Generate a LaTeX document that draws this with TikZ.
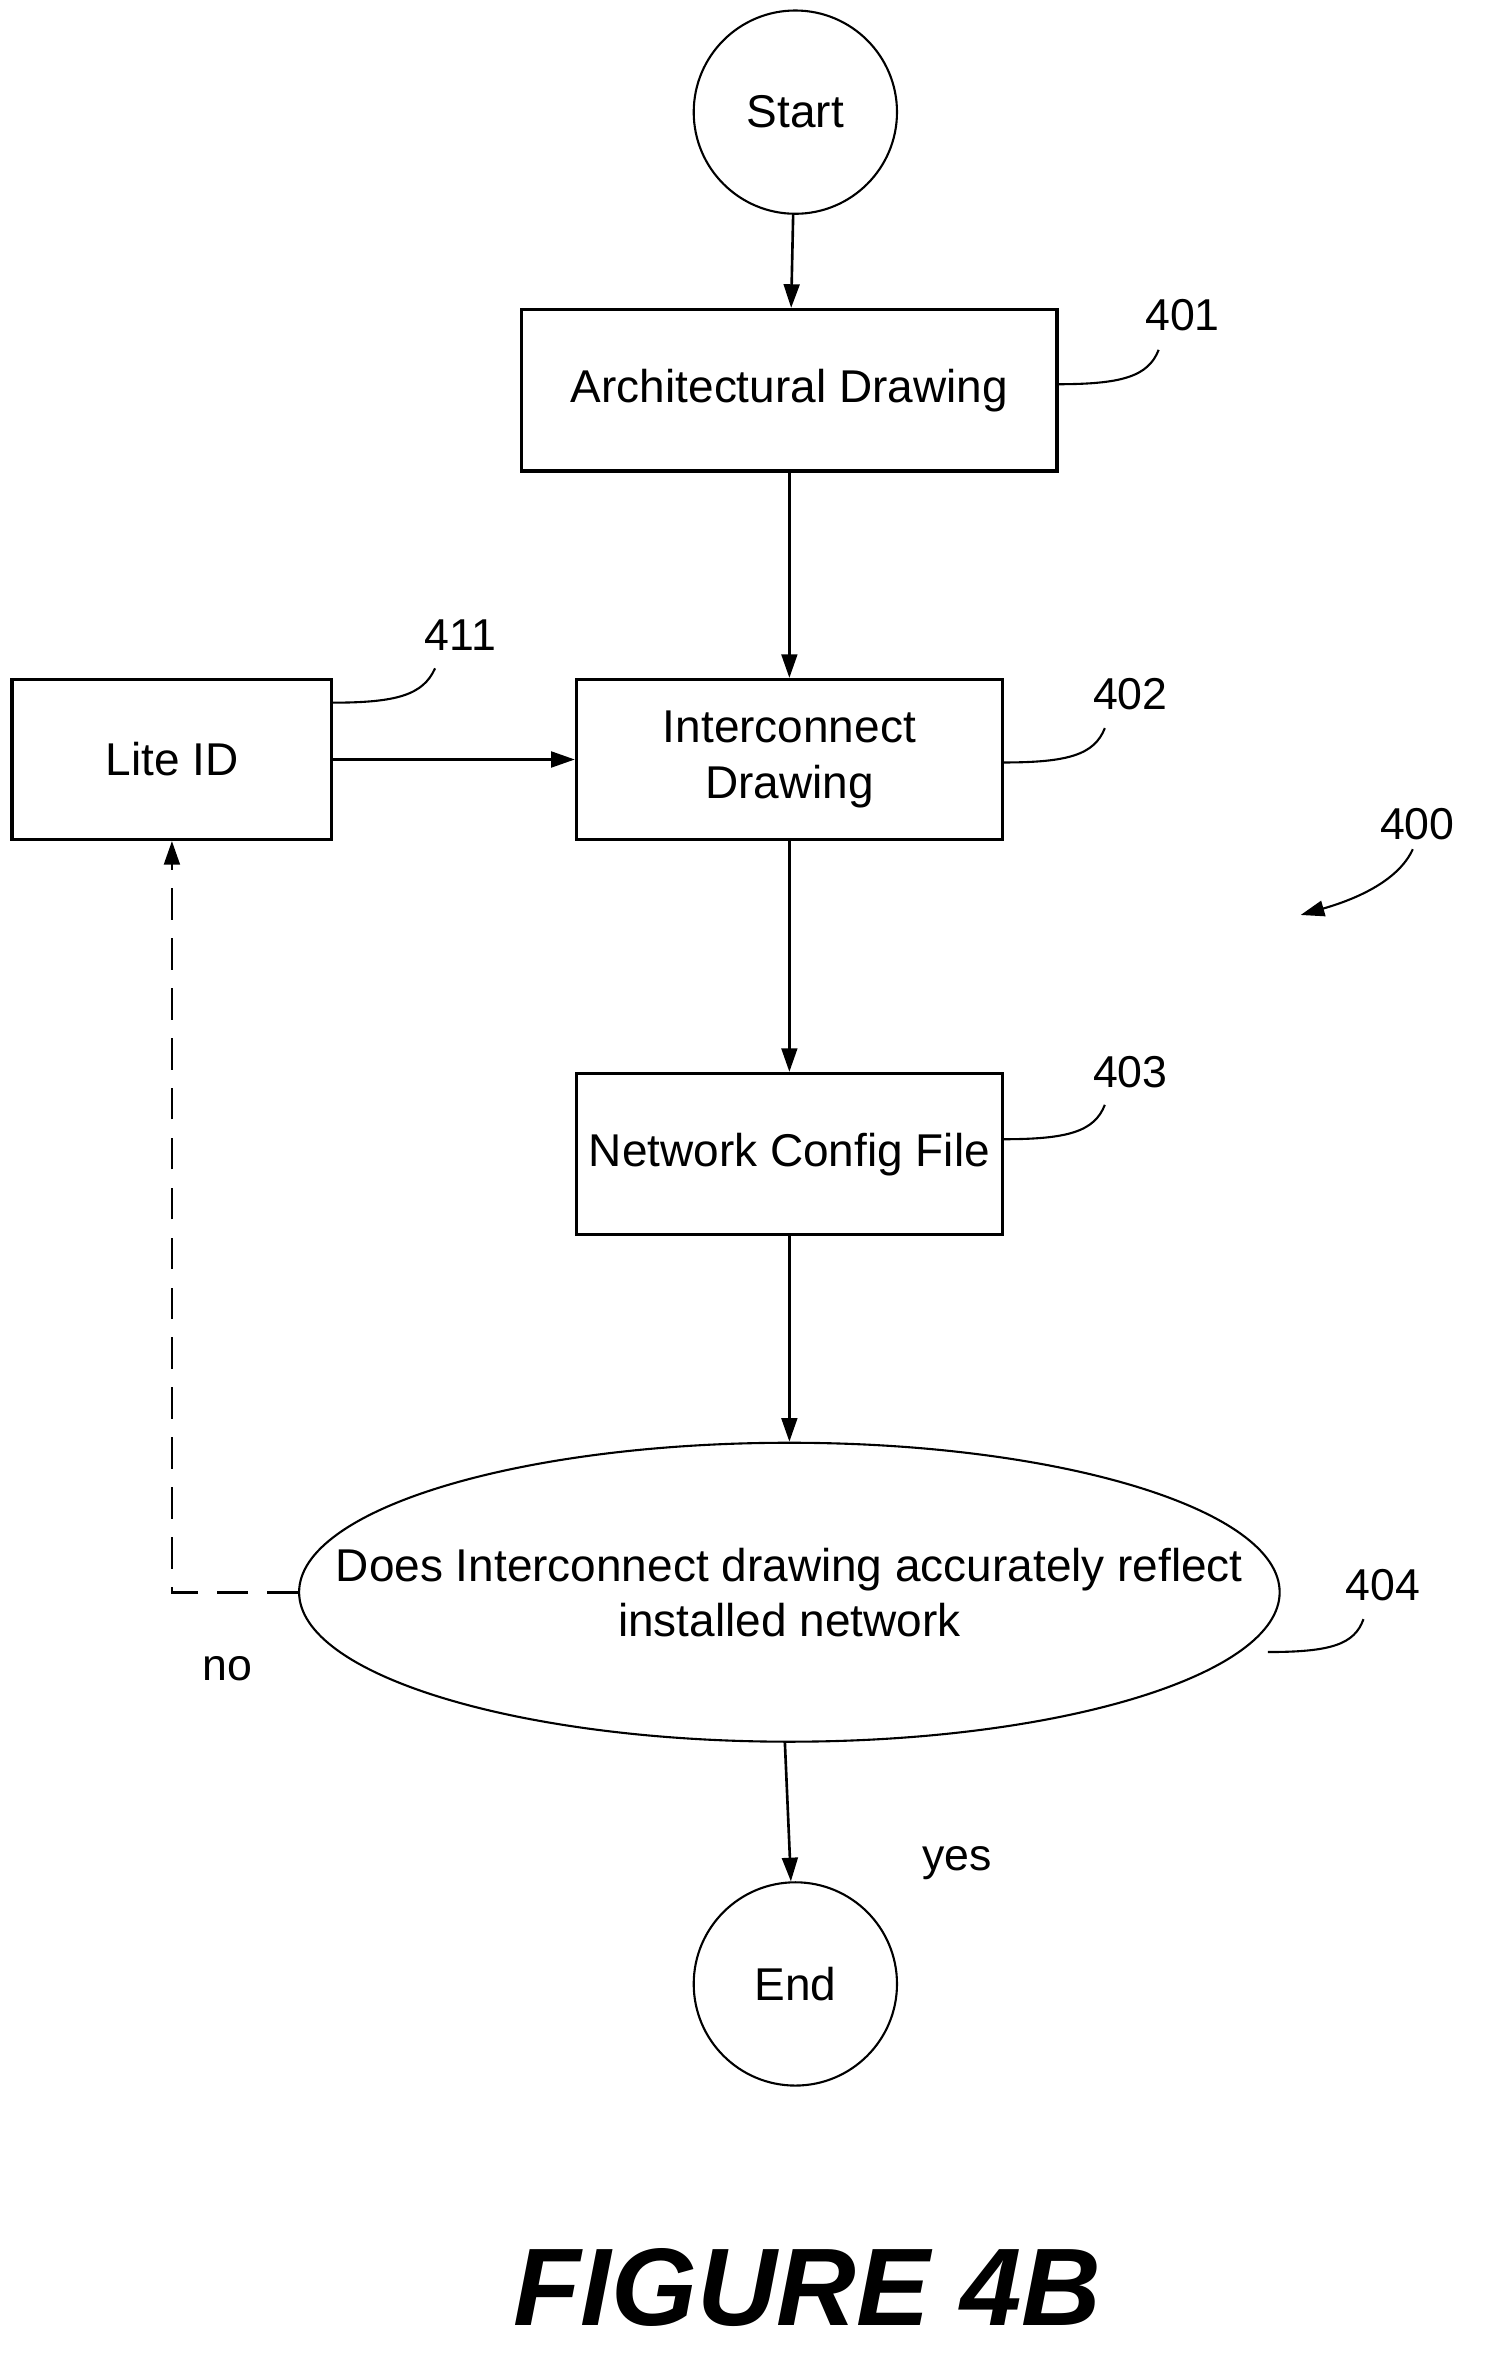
\documentclass[tikz,border=0pt]{standalone}
\usepackage{fontspec}
\setmainfont{Liberation Sans}
\usetikzlibrary{arrows.meta}
\usetikzlibrary{positioning}
\usetikzlibrary{shapes.geometric}

\begin{document}
\begin{tikzpicture}[x=0.02cm,y=-0.02cm,
                    ->,
                    >={Triangle[length=9pt,width=6pt]},
                    line width=1pt,
                    font=\fontsize{17.5}{21}\selectfont,
                    blk/.style={rectangle,draw,line width=1.2pt,align=center,inner sep=0pt},
                    term/.style={circle,draw,line width=0.8pt,minimum size=2.72cm},
                    lead/.style={-,line width=0.8pt},
                    num/.style={font=\fontsize{17}{20}\selectfont}
                    ]
  \useasboundingbox (0,0) rectangle (1000,1590.6);
  \node[term] (start) at (532,75) {Start};
  \node[blk, minimum width=7.16cm, minimum height=2.16cm] (401) at (528,261) {Architectural Drawing};
  \node[blk, minimum width=5.7cm, minimum height=2.14cm] (402) at (528,508) {Interconnect\\Drawing};
  \node[blk, minimum width=4.28cm, minimum height=2.14cm] (411) at (115,508) {Lite ID};
  \node[blk, minimum width=5.7cm, minimum height=2.16cm] (403) at (528,772) {Network Config File};
  \node[ellipse, draw, line width=0.8pt, minimum width=13.12cm, minimum height=4cm, align=center, inner sep=-2cm] (404) at (528,1065)
       {Does Interconnect drawing accurately reflect\\installed network};
  \node[term] (end) at (532,1327) {End};
  % flow
  \draw (start) -- (401);
  \draw (401) -- (402);
  \draw (411) -- (402);
  \draw (402) -- (403);
  \draw (403) -- (404);
  \draw (404.south) ++(-3,0) coordinate (ys) (ys) -- (end);
  \coordinate (nk) at (115,1065);
  \draw[dashed, dash pattern=on 12pt off 7pt] (404.west) -- (nk) -- (411.south);
  \node[num] (no) at (152,1116) {no};
  \node[num] (yes) at (640,1246) {yes};
  % reference numerals
  \node[num] (n401) at (791,211) {401};
  \node[num] (n402) at (756,464) {402};
  \node[num] (n411) at (308,425) {411};
  \node[num] (n403) at (756,717) {403};
  \node[num] (n404) at (925,1060) {404};
  \node[num] (n400) at (948,551) {400};
  \draw[lead] (707,257) .. controls (750,257) and (768,252) .. (775,234);
  \draw[lead] (671,510) .. controls (714,510) and (732,505) .. (739,487);
  \draw[lead] (222,470) .. controls (265,470) and (283,465) .. (291,447);
  \draw[lead] (671,762) .. controls (714,762) and (732,757) .. (739,739);
  \draw[lead] (848,1105) .. controls (890,1105) and (906,1100) .. (912,1083);
  \draw[line width=0.8pt] (945,568) .. controls (935,590) and (905,602) .. (870,612);
  \node[font=\fontsize{42}{48}\selectfont\bfseries\itshape] (fig) at (540,1530) {FIGURE 4B};
\end{tikzpicture}
\end{document}
